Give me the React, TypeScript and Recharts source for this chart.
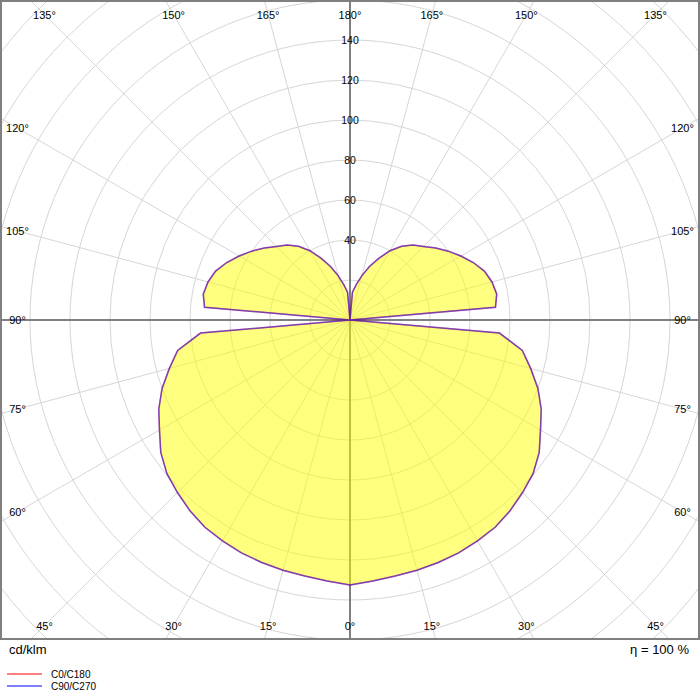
import React from 'react';
import { RadarChart, Radar, PolarGrid, PolarAngleAxis, PolarRadiusAxis } from 'recharts';

// gamma angles (deg, 0 = straight down, 180 = straight up)
const gammaDeg = [0, 5, 10, 15, 20, 25, 30, 35, 40, 45, 50, 55, 60, 65, 70, 75, 80, 85, 90,
  95, 100, 105, 110, 115, 120, 125, 130, 135, 140, 145, 150, 155, 160, 165, 170, 175, 180];
// luminous intensity, cd/klm
const c0c180 = [132.5, 131, 130, 129.5, 129, 128.5, 127.5, 126.5, 124.5, 122, 119.5, 115.5, 110, 105.5, 100, 93.5, 87.5, 75, 0,
  73, 74.5, 73.5, 71.5, 68, 64, 60, 56, 52, 49, 45, 40, 34, 28.5, 23, 18, 14, 0];
const c90c270 = [132.5, 131, 130, 129.5, 129, 128.5, 127.5, 126.5, 124.5, 122, 119.5, 115.5, 110, 105.5, 100, 93.5, 87.5, 75, 0,
  73, 74.5, 73.5, 71.5, 68, 64, 60, 56, 52, 49, 45, 40, 34, 28.5, 23, 18, 14, 0];

const angleTickValues = [0, 15, 30, 45, 60, 75, 90, 105, 120, 135, 150, 165, 180, 195, 210, 225, 240, 255, 270, 285, 300, 315, 330, 345];
const radiusGridValues = [20, 40, 60, 80, 100, 120, 140, 160, 180, 200, 220, 240];
const radiusLabelValues = [40, 60, 80, 100, 120, 140];
const seriesNames = ['C0/C180', 'C90/C270'];
const seriesColors = ['#ff0000', '#0000ff'];
const unitLabel = 'cd/klm';
const efficiencyLabel = 'η = 100 %';

const W = 700;
const H = 640;
const CX = 350;
const CY = 320;
const OUTER = 480;
const RMAX = 240;
const HX = 332.5;
const HY = 305.5;

const gammaOf = (t: number) => (t <= 180 ? t : 360 - t);
const thetas = Array.from({ length: 72 }, (_, i) => i * 5);
const data = thetas.map((t) => {
  const k = gammaDeg.indexOf(gammaOf(t));
  return { theta: t, c0: c0c180[k], c90: c90c270[k] };
});

const AngleTick = (props: any) => {
  const { payload } = props;
  const t = payload.value as number;
  const deg = typeof payload.coordinate === 'number' ? payload.coordinate : t - 90;
  const a = (deg * Math.PI) / 180;
  const dx = Math.cos(a);
  const dy = -Math.sin(a);
  const sx = Math.abs(dx) > 1e-9 ? HX / Math.abs(dx) : Infinity;
  const sy = Math.abs(dy) > 1e-9 ? HY / Math.abs(dy) : Infinity;
  const s = Math.min(sx, sy);
  return (
    <text x={CX + dx * s} y={CY + dy * s} textAnchor="middle" dominantBaseline="central" fontSize={11} fill="#000">
      {gammaOf(t)}°
    </text>
  );
};

const RadiusTick = (props: any) => {
  const { x, y, payload } = props;
  if (!radiusLabelValues.includes(payload.value)) return <g />;
  return (
    <text x={x} y={y} textAnchor="middle" dominantBaseline="central" fontSize={10.5} fill="#000">
      {payload.value}
    </text>
  );
};

export default function App() {
  const gridRadii = radiusGridValues.map((v) => (v / RMAX) * OUTER);
  const gridAngles = angleTickValues.map((t) => t - 90);
  return (
    <div style={{ position: 'absolute', left: 0, top: 0, width: 700, height: 700, background: '#fff', fontFamily: '"Liberation Sans", Arial, sans-serif' }}>
      <div style={{ position: 'absolute', left: 0, top: 0 }}>
        <RadarChart width={W} height={H} cx={CX} cy={CY} outerRadius={OUTER} startAngle={-90} endAngle={270} data={data} margin={{ top: 0, right: 0, bottom: 0, left: 0 }}>
          <PolarGrid gridType="circle" polarRadius={gridRadii} polarAngles={gridAngles} stroke="#d6d6d6" strokeWidth={1} />
          <PolarGrid gridType="circle" polarRadius={[]} polarAngles={[0, 90, 180, 270]} stroke="#808080" strokeWidth={2} />
          <PolarAngleAxis dataKey="theta" type="number" domain={[0, 360]} ticks={angleTickValues as any} tick={AngleTick} axisLine={false} tickLine={false} />
          <PolarRadiusAxis angle={90} type="number" domain={[0, RMAX]} tickCount={13} ticks={radiusGridValues as any} tick={RadiusTick} axisLine={false} tickLine={false} />
          <Radar name={seriesNames[0]} dataKey="c0" stroke={seriesColors[0]} strokeOpacity={0.5} strokeWidth={1.5} fill="#ffff00" fillOpacity={0.5} dot={false} activeDot={false} isAnimationActive={false} />
          <Radar name={seriesNames[1]} dataKey="c90" stroke={seriesColors[1]} strokeOpacity={0.5} strokeWidth={1.5} fill="none" fillOpacity={0} dot={false} activeDot={false} isAnimationActive={false} />
        </RadarChart>
      </div>
      <div style={{ position: 'absolute', left: 0, top: 0, width: W, height: H, border: '2px solid #808080', boxSizing: 'border-box', pointerEvents: 'none' }} />
      <svg style={{ position: 'absolute', left: 0, top: H }} width={700} height={60}>
        <text x={9} y={14} fontSize={13} fill="#000">{unitLabel}</text>
        <text x={689} y={14} fontSize={13} fill="#000" textAnchor="end">{efficiencyLabel}</text>
        {seriesNames.map((n, i) => (
          <g key={n}>
            <line x1={7} x2={42} y1={34 + i * 12} y2={34 + i * 12} stroke={seriesColors[i]} strokeOpacity={0.5} strokeWidth={2} />
            <text x={51} y={37.5 + i * 12} fontSize={10} fill="#000">{n}</text>
          </g>
        ))}
      </svg>
    </div>
  );
}
